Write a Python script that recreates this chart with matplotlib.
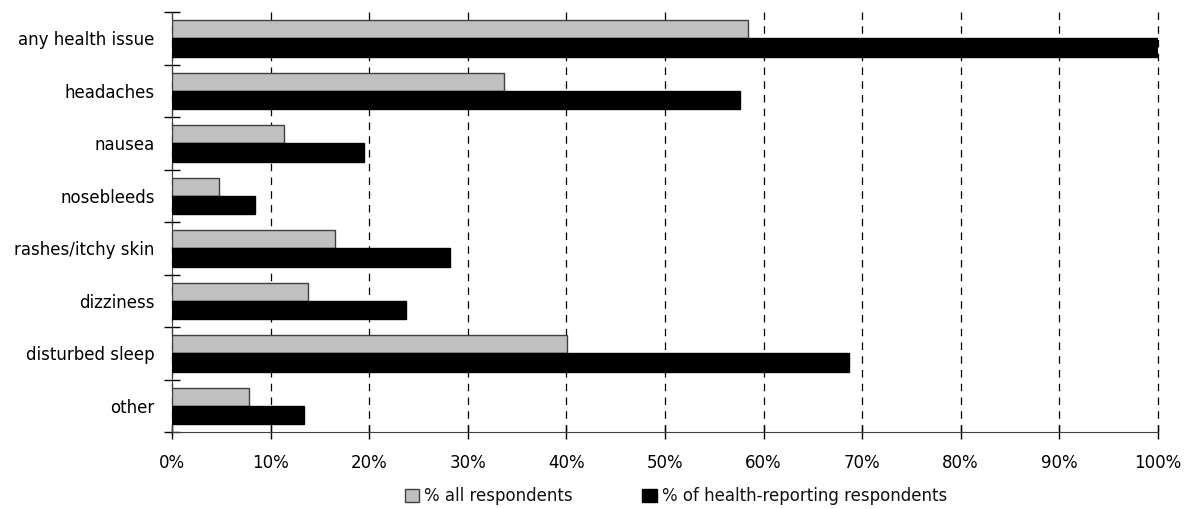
import numpy as np
import matplotlib
matplotlib.use("Agg")
import matplotlib.pyplot as plt
import matplotlib.ticker as ticker

categories = ["any health issue", "headaches", "nausea", "nosebleeds",
              "rashes/itchy skin", "dizziness", "disturbed sleep", "other"]
all_respondents = [58.4, 33.7, 11.4, 4.8, 16.5, 13.8, 40.1, 7.8]
health_reporting = [100.0, 57.6, 19.5, 8.4, 28.2, 23.7, 68.7, 13.4]
x_ticks = list(range(0, 101, 10))

plt.rcParams['font.family'] = ['DejaVu Sans']
plt.rcParams['text.color'] = '#111111'

fig = plt.figure(figsize=(11.9, 5.09), dpi=100)
ax = fig.add_axes([0.1445, 0.151, 0.8285, 0.825])

y = np.arange(len(categories))
h = 0.35
ax.barh(y - h / 2, all_respondents, height=h, color="#c0c0c0",
        edgecolor="#404040", linewidth=1, label="% all respondents", zorder=3)
ax.barh(y + h / 2, health_reporting, height=h, color="black",
        edgecolor="black", linewidth=1, label="% of health-reporting respondents", zorder=3)

ax.set_xlim(0, 100)
ax.set_ylim(len(categories) - 0.5, -0.5)
ax.set_xticks(x_ticks)
ax.xaxis.set_major_formatter(ticker.FuncFormatter(lambda v, pos: f"{v:.0f}%"))

# category labels sit between the tick marks
ax.set_yticks(np.arange(len(categories) + 1) - 0.5)
ax.set_yticklabels([])
ax.set_yticks(y, minor=True)
ax.set_yticklabels(categories, minor=True)
ax.tick_params(axis="y", which="minor", length=0, pad=12.5, labelsize=12)
ax.tick_params(axis="y", which="major", direction="inout", length=12, width=1)
ax.tick_params(axis="x", direction="inout", length=10, width=1, pad=11, labelsize=12)

ax.xaxis.grid(True, color="black", linestyle=(0, (6, 5)), linewidth=0.9, zorder=0)
for gl in ax.get_xgridlines():
    gl.set_clip_on(False)
for s in ["top", "right"]:
    ax.spines[s].set_visible(False)
ax.spines["left"].set_color("#404040")
ax.spines["bottom"].set_color("#404040")

ax.legend(loc="upper center", bbox_to_anchor=(0.511, -0.095), ncol=2, frameon=False,
          fontsize=12, handlelength=0.85, handleheight=0.85, handletextpad=0.3,
          columnspacing=4.2)

fig.savefig("out.png", dpi=100)
